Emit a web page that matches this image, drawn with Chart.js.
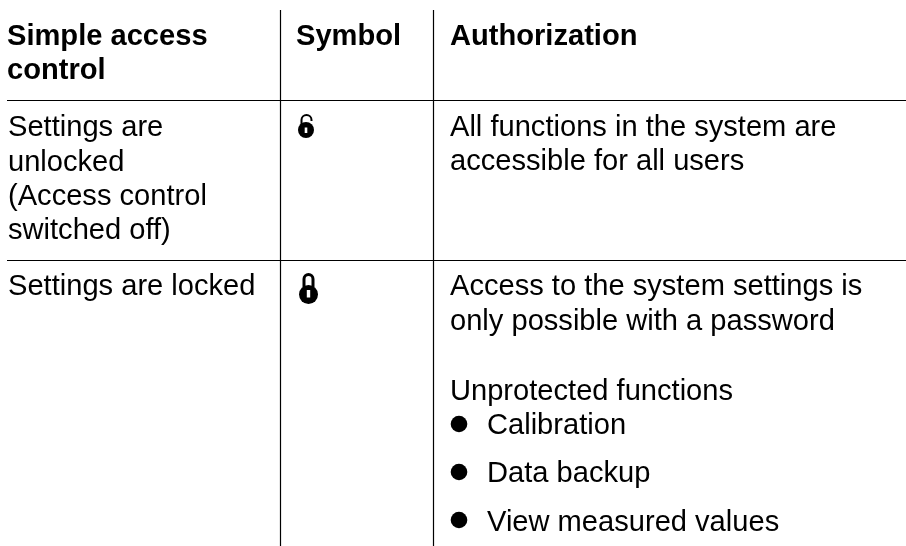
<!DOCTYPE html>
<html>
<head>
<meta charset="utf-8">
<script src="https://cdn.jsdelivr.net/npm/chart.js@4"></script>
<style>
html, body { margin: 0; padding: 0; background: #fff; }
#wrap { width: 906px; height: 546px; }
</style>
</head>
<body>
<div id="wrap"><canvas id="table"></canvas></div>
<script>
// table contents
var headers = ['Simple access', 'control', 'Symbol', 'Authorization'];
var cellLines = [
    'Settings are', 'unlocked', '(Access control', 'switched off)',
    'All functions in the system are', 'accessible for all users',
    'Settings are locked',
    'Access to the system settings is', 'only possible with a password',
    'Unprotected functions'
];
var bulletItems = ['Calibration', 'Data backup', 'View measured values'];

// where things sit, in the 906x546 space of the page
var headerX = [7, 7, 296, 450];
var headerY = [45, 79, 45, 45];
var cellX = [8, 8, 8, 8, 450, 450, 8, 450, 450, 450];
var cellY = [136, 171, 205, 239, 136, 170, 295, 295, 330, 400];
var bulletY = [434, 482, 531];
var bulletMarkY = [424, 472, 520];
var bulletMarkX = 459;
var bulletTextX = 487;
var ruleXs = [280.5, 433.5];
var ruleYs = [100.5, 260.5];

function ruleDataset(a, b) {
    return {
        type: 'line',
        data: [a, b],
        borderColor: '#000',
        borderWidth: 1.2,
        pointRadius: 0,
        fill: false
    };
}

var datasets = [
    ruleDataset({ x: ruleXs[0], y: 10 }, { x: ruleXs[0], y: 546 }),
    ruleDataset({ x: ruleXs[1], y: 10 }, { x: ruleXs[1], y: 546 }),
    ruleDataset({ x: 7, y: ruleYs[0] }, { x: 906, y: ruleYs[0] }),
    ruleDataset({ x: 7, y: ruleYs[1] }, { x: 906, y: ruleYs[1] }),
    {
        type: 'scatter',
        data: bulletMarkY.map(function (y) { return { x: bulletMarkX, y: y }; }),
        backgroundColor: '#000',
        borderWidth: 0,
        pointRadius: 8.3
    }
];

function drawOpenLock(c, x, y) {
    c.strokeStyle = '#000';
    c.lineWidth = 2;
    c.beginPath();
    c.moveTo(x - 4.5, y + 12);
    c.lineTo(x - 4.5, y + 6);
    c.arc(x + 0.5, y + 6, 5, Math.PI, 0);
    c.lineTo(x + 5.5, y + 7);
    c.stroke();
    c.fillStyle = '#000';
    c.beginPath();
    c.arc(x, y + 16, 8, 0, Math.PI * 2);
    c.fill();
    c.fillStyle = '#fff';
    c.fillRect(x - 1.3, y + 13.5, 2.6, 5.5);
}

function drawClosedLock(c, x, y) {
    c.strokeStyle = '#000';
    c.lineWidth = 3;
    c.beginPath();
    c.moveTo(x - 4.5, y + 14);
    c.lineTo(x - 4.5, y + 6);
    c.arc(x, y + 6, 4.5, Math.PI, 0);
    c.lineTo(x + 4.5, y + 14);
    c.stroke();
    c.fillStyle = '#000';
    c.beginPath();
    c.arc(x, y + 21.5, 9.5, 0, Math.PI * 2);
    c.fill();
    c.fillStyle = '#fff';
    c.fillRect(x - 1.7, y + 17, 3.4, 7.5);
}

var tableText = {
    id: 'tableText',
    afterDatasetsDraw: function (chart) {
        var c = chart.ctx, sx = chart.scales.x, sy = chart.scales.y;
        c.save();
        c.fillStyle = '#000';
        c.textBaseline = 'alphabetic';
        c.textAlign = 'left';
        c.font = 'bold 29.1px "Liberation Sans"';
        headers.forEach(function (t, i) {
            c.fillText(t, sx.getPixelForValue(headerX[i]), sy.getPixelForValue(headerY[i]));
        });
        c.font = '29.1px "Liberation Sans"';
        cellLines.forEach(function (t, i) {
            c.fillText(t, sx.getPixelForValue(cellX[i]), sy.getPixelForValue(cellY[i]));
        });
        bulletItems.forEach(function (t, i) {
            c.fillText(t, sx.getPixelForValue(bulletTextX), sy.getPixelForValue(bulletY[i]));
        });
        drawOpenLock(c, sx.getPixelForValue(306), sy.getPixelForValue(114));
        drawClosedLock(c, sx.getPixelForValue(308.5), sy.getPixelForValue(273));
        c.restore();
    }
};

new Chart(document.getElementById('table').getContext('2d'), {
    type: 'scatter',
    data: { datasets: datasets },
    options: {
        responsive: true,
        maintainAspectRatio: false,
        animation: false,
        layout: { padding: 0, autoPadding: false },
        plugins: { legend: { display: false }, tooltip: { enabled: false }, title: { display: false } },
        scales: {
            x: { type: 'linear', min: 0, max: 906, display: false },
            y: { type: 'linear', min: 0, max: 546, reverse: true, display: false }
        }
    },
    plugins: [tableText]
});
</script>
</body>
</html>
